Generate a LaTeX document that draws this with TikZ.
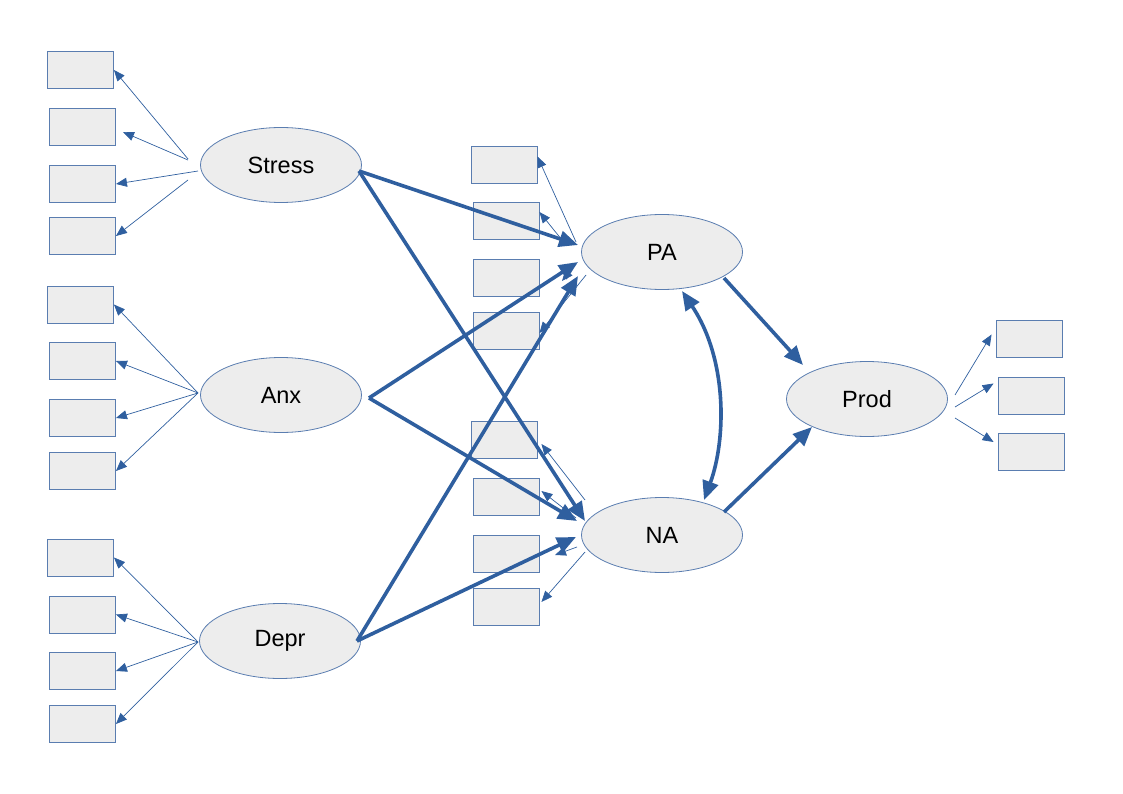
\documentclass[tikz,border=0pt]{standalone}
\usepackage{fontspec}
\setmainfont{Liberation Sans}
\usetikzlibrary{arrows.meta,shapes.geometric}
\definecolor{ln}{HTML}{2F5F9F}
\definecolor{bd}{HTML}{5A7DB0}
\definecolor{fl}{HTML}{EDEDED}
\tikzset{
  ind/.style={draw=bd,fill=fl,line width=0.9pt,minimum width=66pt,minimum height=37pt,inner sep=0pt},
  lat/.style={draw=bd,fill=fl,line width=0.8pt,ellipse,minimum width=161pt,minimum height=75pt,inner sep=0pt,font=\fontsize{23.5}{28}\selectfont},
  thin/.style={draw=ln,line width=0.7pt,-{Triangle[length=11pt,width=9pt]}},
  thick/.style={draw=ln,line width=3.6pt,-{Triangle[length=19pt,width=16pt]}},
}
\begin{document}
\begin{tikzpicture}[x=1pt,y=-1pt]
\useasboundingbox (0,0) rectangle (1123,794);
% left indicators
\node[ind] (s1) at (80.5,70) {};
\node[ind] (s2) at (82.5,127) {};
\node[ind] (s3) at (82.5,184) {};
\node[ind] (s4) at (82.5,236) {};
\node[ind] (a1) at (80.5,304.5) {};
\node[ind] (a2) at (82.5,361) {};
\node[ind] (a3) at (82.5,418) {};
\node[ind] (a4) at (82.5,471) {};
\node[ind] (d1) at (80.5,557.5) {};
\node[ind] (d2) at (82.5,614.5) {};
\node[ind] (d3) at (82.5,671) {};
\node[ind] (d4) at (82.5,724) {};
% middle indicators
\node[ind] (p1) at (504,164.5) {};
\node[ind] (p2) at (506,221) {};
\node[ind] (p3) at (506,278) {};
\node[ind] (p4) at (506,331) {};
\node[ind] (n1) at (504,440) {};
\node[ind] (n2) at (506,497) {};
\node[ind] (n3) at (506,554) {};
\node[ind] (n4) at (506,607) {};
% right indicators
\node[ind] (r1) at (1029,338.5) {};
\node[ind] (r2) at (1031,395.5) {};
\node[ind] (r3) at (1031,452) {};
% latent
\node[lat] (stress) at (281,165) {Stress};
\node[lat] (anx) at (281,395) {Anx};
\node[lat] (depr) at (280,641) {Depr};
\node[lat] (pa) at (662,252) {PA};
\node[lat] (na) at (662,535) {NA};
\node[lat] (prod) at (867,399) {Prod};
% coordinates
\coordinate (sA) at (188,159);
\coordinate (sB) at (188,160);
\coordinate (sC) at (198,171);
\coordinate (sD) at (188,180);
\coordinate (s2e) at (123,132);
\coordinate (aA) at (198,393);
\coordinate (dA) at (198,642);
\coordinate (pA) at (576,242);
\coordinate (pB) at (566,245);
\coordinate (pC) at (576,264);
\coordinate (pD) at (586,275);
\coordinate (p3e) at (562,281);
\coordinate (nA) at (585,500);
\coordinate (nB) at (576,518);
\coordinate (nC) at (577,547);
\coordinate (nD) at (585,552);
\coordinate (n3e) at (555,555);
\coordinate (rA) at (955,395);
\coordinate (rB) at (955,407);
\coordinate (rC) at (955,418);
\coordinate (sO) at (359,171);
\coordinate (aO) at (369,398);
\coordinate (dO) at (357,641);
\coordinate (paS) at (578,245);
\coordinate (paA) at (578,262);
\coordinate (paD) at (578,276);
\coordinate (naS) at (585,521);
\coordinate (naA) at (577,521);
\coordinate (naD) at (576,537);
\coordinate (paO) at (724,278);
\coordinate (prodP) at (803,365);
\coordinate (naO) at (724,512);
\coordinate (prodN) at (812,427);
\coordinate (cPA) at (682,291);
\coordinate (cNA) at (704,500);
% thin loadings
\draw[thin] (sA) -- (s1.east);
\draw[thin] (sB) -- (s2e);
\draw[thin] (sC) -- (s3.east);
\draw[thin] (sD) -- (s4.east);
\foreach \b in {a1,a2,a3,a4} \draw[thin] (aA) -- (\b.east);
\foreach \b in {d1,d2,d3,d4} \draw[thin] (dA) -- (\b.east);
\draw[thin] (pA) -- ([yshift=8pt]p1.east);
\draw[thin] (pB) -- ([yshift=9pt]p2.east);
\draw[thin] (pC) -- (p3e);
\draw[thin] (pD) -- ([yshift=-2pt]p4.east);
\draw[thin] (nA) -- ([xshift=4pt,yshift=-4pt]n1.east);
\draw[thin] (nB) -- ([xshift=2pt,yshift=6pt]n2.east);
\draw[thin] (nC) -- (n3e);
\draw[thin] (nD) -- ([xshift=2pt,yshift=5pt]n4.east);
\draw[thin] (rA) -- ([xshift=-4pt,yshift=4pt]r1.west);
\draw[thin] (rB) -- ([xshift=-4pt,yshift=12pt]r2.west);
\draw[thin] (rC) -- ([xshift=-4pt,yshift=10pt]r3.west);
% structural
\draw[thick] (sO) -- (paS);
\draw[thick] (sO) -- (naS);
\draw[thick] (aO) -- (paA);
\draw[thick] (aO) -- (naA);
\draw[thick] (dO) -- (paD);
\draw[thick] (dO) -- (naD);
\draw[thick] (paO) -- (prodP);
\draw[thick] (naO) -- (prodN);
\draw[draw=ln,line width=3.6pt,{Triangle[length=19pt,width=16pt]}-{Triangle[length=19pt,width=16pt]}] (cPA) .. controls (728,360) and (726,440) .. (cNA);
\end{tikzpicture}
\end{document}
